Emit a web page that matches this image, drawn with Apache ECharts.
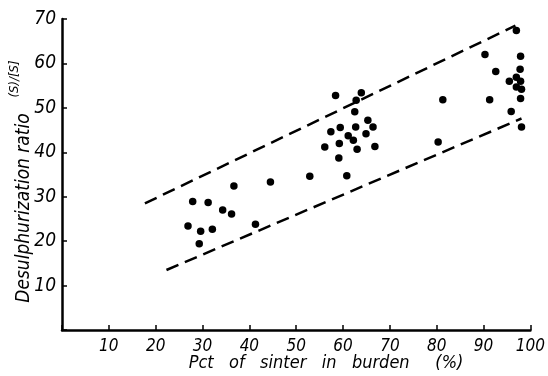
<!DOCTYPE html>
<html><head><meta charset="utf-8">
<script src="https://cdn.jsdelivr.net/npm/echarts@6/dist/echarts.min.js"></script>
<style>html,body{margin:0;padding:0;background:#fff}#c{width:548px;height:376px}</style>
</head><body><div id="c"></div>
<script>
// Pct of sinter in burden (%)
const sinterPct = [36.7,44.5,27.9,31.2,34.3,36.2,26.9,29.6,32.1,29.3,41.3,52.9,
  58.4,63.9,62.8,62.5,65.3,59.4,62.7,66.4,57.4,61.1,64.9,62.2,59.2,56.1,63.0,66.8,59.1,60.8,
  81.3,80.3,97.0,90.3,97.9,92.6,97.8,95.5,97.0,97.9,97.0,98.1,91.3,97.9,95.9,98.1];
// Desulphurization ratio (S)/[S]
const desulphRatio = [32.4,33.3,28.9,28.7,27.0,26.1,23.4,22.2,22.7,19.4,23.8,34.6,
  52.8,53.4,51.7,49.1,47.2,45.6,45.7,45.7,44.6,43.7,44.2,42.7,42.0,41.2,40.7,41.3,38.7,34.7,
  51.8,42.3,67.4,62.0,61.6,58.2,58.7,56.0,56.9,56.0,54.7,54.2,51.8,52.1,49.2,45.7];
// dashed envelope lines
const upperBandX = [17.7, 96.8];
const upperBandY = [28.5, 68.5];
const lowerBandX = [22.3, 98.1];
const lowerBandY = [13.5, 47.6];
// axis ticks
const xTickLabels = [10,20,30,40,50,60,70,80,90,100];
const yTickLabels = [10,20,30,40,50,60,70];

const FONT = "'Liberation Sans Narrow','DejaVu Sans Condensed',sans-serif";
const chart = echarts.init(document.getElementById('c'), null, {renderer:'canvas'});
const zip = (a,b) => a.map((v,i)=>[v,b[i]]);
const axisCommon = {
  axisLine:{show:true, onZero:false, lineStyle:{color:'#000', width:2.5}},
  axisTick:{show:true, inside:true, length:5, lineStyle:{color:'#000', width:1.5}},
  splitLine:{show:false},
};
chart.setOption({
  animation:false,
  backgroundColor:'#fff',
  grid:{left:62, right:13, top:19, bottom:46},
  xAxis:Object.assign({
    type:'value', min:0, max:100, interval:10,
    axisLabel:{color:'#000', fontFamily:FONT, fontStyle:'italic', fontSize:17, margin:8,
      formatter:v => xTickLabels.includes(v) ? String(v) : ''}
  }, axisCommon),
  yAxis:Object.assign({
    type:'value', min:0, max:70, interval:10,
    axisLabel:{color:'#000', fontFamily:FONT, fontStyle:'italic', fontSize:19, margin:6,
      formatter:v => yTickLabels.includes(v) ? String(v) : ''}
  }, axisCommon),
  graphic:[
    {type:'text', x:24, y:208, rotation:Math.PI/2,
      style:{text:'Desulphurization ratio', font:"italic 19px "+FONT, fill:'#000',
        textAlign:'center', textVerticalAlign:'middle'}},
    {type:'text', x:15, y:79, rotation:Math.PI/2,
      style:{text:'(S)/[S]', font:"italic 13px "+FONT, fill:'#000',
        textAlign:'center', textVerticalAlign:'middle'}},
    {type:'text', x:326, y:363,
      style:{text:'Pct   of   sinter   in   burden     (%)', font:"italic 18px "+FONT, fill:'#000',
        textAlign:'center', textVerticalAlign:'middle'}}
  ],
  series:[
    {type:'scatter', data:zip(sinterPct, desulphRatio), symbol:'circle', symbolSize:7.5,
      itemStyle:{color:'#000', opacity:1}},
    {type:'line', data:zip(upperBandX, upperBandY), symbol:'none',
      lineStyle:{color:'#000', width:2.5, type:[13,7]}},
    {type:'line', data:zip(lowerBandX, lowerBandY), symbol:'none',
      lineStyle:{color:'#000', width:2.5, type:[13,7]}}
  ]
});
</script></body></html>
